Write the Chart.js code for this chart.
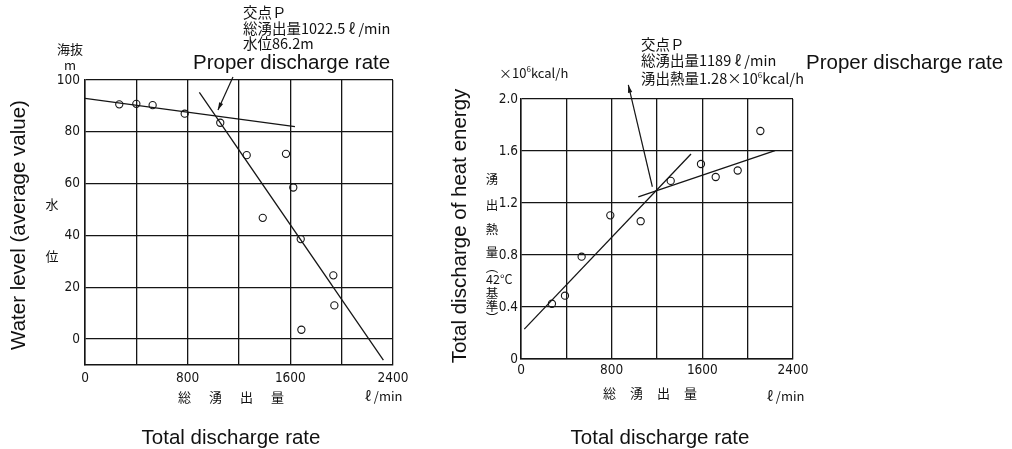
<!DOCTYPE html>
<html>
<head>
<meta charset="utf-8">
<script src="https://cdn.jsdelivr.net/npm/chart.js@4.4.1/dist/chart.umd.min.js"></script>
<style>
  body { margin:0; background:#fff; width:1012px; height:449px; position:relative; overflow:hidden; color:#111; font-family:"Liberation Sans", Arial, sans-serif; }
  canvas { position:absolute; top:0; }
  .t { position:absolute; white-space:nowrap; line-height:1; }
  .jp { font-family:"Noto Sans CJK JP", sans-serif; font-size:13px; }
  .sm { font-size:12.5px; }
  .en { font-size:20.5px; }
  .rot { transform:translate(-50%,-50%) rotate(-90deg); }
  .c { transform:translate(-50%,-50%); }
  .l { transform:translateY(-50%); }
  .note { line-height:15.5px; font-size:14.5px; }
  sup { font-size:8px; vertical-align:6px; }
</style>
</head>
<body>
<canvas id="levelChart" width="430" height="449" style="left:0"></canvas>
<canvas id="heatChart" width="582" height="449" style="left:430px"></canvas>

<!-- left panel texts -->
<div class="t rot en" style="left:18px;top:225px">Water level (average value)</div>
<div class="t c jp" style="left:52px;top:203px">水</div>
<div class="t c jp" style="left:52px;top:255px">位</div>
<div class="t c jp" style="left:70px;top:48px">海抜</div>
<div class="t c jp" style="left:70px;top:64px">m</div>
<div class="t jp note" style="left:243px;top:4px">交点Ｐ<br>総湧出量1022.5 ℓ /min<br>水位86.2m</div>
<div class="t l en" style="left:193px;top:62px">Proper discharge rate</div>
<div class="t jp" style="left:178px;top:390px;letter-spacing:18px">総湧出量</div>
<div class="t l jp" style="left:365px;top:395px">ℓ /min</div>
<div class="t c en" style="left:231px;top:437px">Total discharge rate</div>

<!-- right panel texts -->
<div class="t rot en" style="left:459px;top:226px">Total discharge of heat energy</div>
<div class="t c jp sm" style="left:492px;top:179px">湧</div>
<div class="t c jp sm" style="left:492px;top:205px">出</div>
<div class="t c jp sm" style="left:492px;top:229px">熱</div>
<div class="t c jp sm" style="left:492px;top:252px">量</div>
<div class="t c jp sm" style="left:492px;top:267px">︵</div>
<div class="t l jp sm" style="left:486px;top:279px">42°C</div>
<div class="t c jp sm" style="left:492px;top:293px">基</div>
<div class="t c jp sm" style="left:492px;top:306px">準</div>
<div class="t c jp sm" style="left:492px;top:318px">︶</div>
<div class="t l jp" style="left:499px;top:72px">×10<sup>6</sup>kcal/h</div>
<div class="t jp note" style="left:641px;top:36px">交点Ｐ<br>総湧出量1189 ℓ /min<br>湧出熱量1.28×10<sup>6</sup>kcal/h</div>
<div class="t l en" style="left:806px;top:62px">Proper discharge rate</div>
<div class="t jp" style="left:603px;top:386px;letter-spacing:14px">総湧出量</div>
<div class="t l jp" style="left:767px;top:395px">ℓ /min</div>
<div class="t c en" style="left:660px;top:437px">Total discharge rate</div>

<script>
// axes
const xTicks = [0, 400, 800, 1200, 1600, 2000, 2400];
const xLabelTicks = [0, 800, 1600, 2400];
const levelTicks = [0, 20, 40, 60, 80, 100];
const heatTicks = [0, 0.4, 0.8, 1.2, 1.6, 2.0];

// left: water level vs total discharge
const levelFlow = [267, 400, 527, 777, 1054, 1260, 1566, 1623, 1385, 1681, 1935, 1943, 1686];
const levelValue = [90.6, 90.8, 90.3, 87.0, 83.5, 71.0, 71.5, 58.5, 46.8, 38.6, 24.6, 13.0, 3.6];
const levelLineAX = [0, 1636];
const levelLineAY = [92.9, 82.0];
const levelLineBX = [891, 2325];
const levelLineBY = [95.2, -8.1];
const levelArrowX = [1153, 1036];
const levelArrowY = [101.2, 88.4];

// right: heat discharge vs total discharge
const heatFlow = [273, 388, 535, 788, 1056, 1321, 1588, 1718, 1912, 2112];
const heatValue = [0.425, 0.487, 0.787, 1.105, 1.06, 1.37, 1.50, 1.40, 1.45, 1.754];
const heatLineAX = [29, 1500];
const heatLineAY = [0.23, 1.577];
const heatLineBX = [1035, 2241];
const heatLineBY = [1.248, 1.602];
const heatArrowX = [1159, 947];
const heatArrowY = [1.325, 2.108];

const ink = '#151515';
const tickFont = { family: '"Liberation Sans Narrow", "DejaVu Sans Condensed", "Liberation Sans", sans-serif', size: 13.5 };

const pts = (xs, ys) => xs.map((x, i) => ({ x: x, y: ys[i] }));

const arrowPlugin = {
  id: 'arrows',
  afterDatasetsDraw(chart, args, opts) {
    const { ctx, scales: { x, y } } = chart;
    const x0 = x.getPixelForValue(opts.x[0]), y0 = y.getPixelForValue(opts.y[0]);
    const x1 = x.getPixelForValue(opts.x[1]), y1 = y.getPixelForValue(opts.y[1]);
    const a = Math.atan2(y1 - y0, x1 - x0);
    ctx.save();
    ctx.strokeStyle = ink;
    ctx.fillStyle = ink;
    ctx.lineWidth = 1.2;
    ctx.beginPath();
    ctx.moveTo(x0, y0);
    ctx.lineTo(x1, y1);
    ctx.stroke();
    ctx.beginPath();
    ctx.moveTo(x1, y1);
    ctx.lineTo(x1 - 8 * Math.cos(a - 0.28), y1 - 8 * Math.sin(a - 0.28));
    ctx.lineTo(x1 - 8 * Math.cos(a + 0.28), y1 - 8 * Math.sin(a + 0.28));
    ctx.closePath();
    ctx.fill();
    ctx.restore();
  }
};

function makeChart(id, cfg) {
  const pointSet = {
    data: pts(cfg.px, cfg.py),
    showLine: false,
    pointRadius: 3.6,
    pointBorderWidth: 1.1,
    pointBorderColor: ink,
    pointBackgroundColor: 'rgba(255,255,255,0)'
  };
  const lineSet = (xs, ys) => ({
    data: pts(xs, ys),
    showLine: true,
    pointRadius: 0,
    borderColor: ink,
    borderWidth: 1.3
  });
  return new Chart(document.getElementById(id), {
    type: 'scatter',
    data: {
      datasets: [pointSet, lineSet(cfg.ax, cfg.ay), lineSet(cfg.bx, cfg.by)]
    },
    options: {
      responsive: false,
      animation: false,
      layout: { padding: cfg.padding },
      plugins: {
        legend: { display: false },
        tooltip: { enabled: false },
        arrows: { x: cfg.arrowX, y: cfg.arrowY }
      },
      scales: {
        x: {
          type: 'linear',
          min: 0,
          max: 2400,
          afterBuildTicks: s => { s.ticks = xTicks.map(v => ({ value: v })); },
          afterFit: s => { s.height = 22; },
          ticks: {
            autoSkip: false,
            maxRotation: 0,
            padding: cfg.xPad,
            color: ink,
            font: tickFont,
            callback: v => xLabelTicks.includes(v) ? String(v) : ''
          },
          grid: { color: ink, lineWidth: 1.3, drawTicks: false },
          border: { color: ink, width: 1.5 }
        },
        y: {
          type: 'linear',
          min: cfg.yMin,
          max: cfg.yMax,
          afterBuildTicks: s => { s.ticks = cfg.yTicks.map(v => ({ value: v })); },
          afterFit: s => { s.width = 40; },
          ticks: {
            autoSkip: false,
            padding: cfg.yPad,
            color: ink,
            font: tickFont,
            callback: cfg.yLabel
          },
          grid: { color: ink, lineWidth: 1.3, drawTicks: false },
          border: { color: ink, width: 1.5 }
        }
      }
    },
    plugins: [arrowPlugin]
  });
}

makeChart('levelChart', {
  px: levelFlow, py: levelValue,
  ax: levelLineAX, ay: levelLineAY,
  bx: levelLineBX, by: levelLineBY,
  arrowX: levelArrowX, arrowY: levelArrowY,
  yMin: -10, yMax: 100, yTicks: levelTicks,
  yLabel: v => String(v),
  xPad: 5, yPad: 5,
  padding: { left: 45, right: 37, top: 80, bottom: 62 }
});

makeChart('heatChart', {
  px: heatFlow, py: heatValue,
  ax: heatLineAX, ay: heatLineAY,
  bx: heatLineBX, by: heatLineBY,
  arrowX: heatArrowX, arrowY: heatArrowY,
  yMin: 0, yMax: 2.0, yTicks: heatTicks,
  yLabel: v => v === 0 ? '0' : v.toFixed(1),
  xPad: 3, yPad: 3,
  padding: { left: 51, right: 219, top: 99, bottom: 68 }
});
</script>
</body>
</html>
